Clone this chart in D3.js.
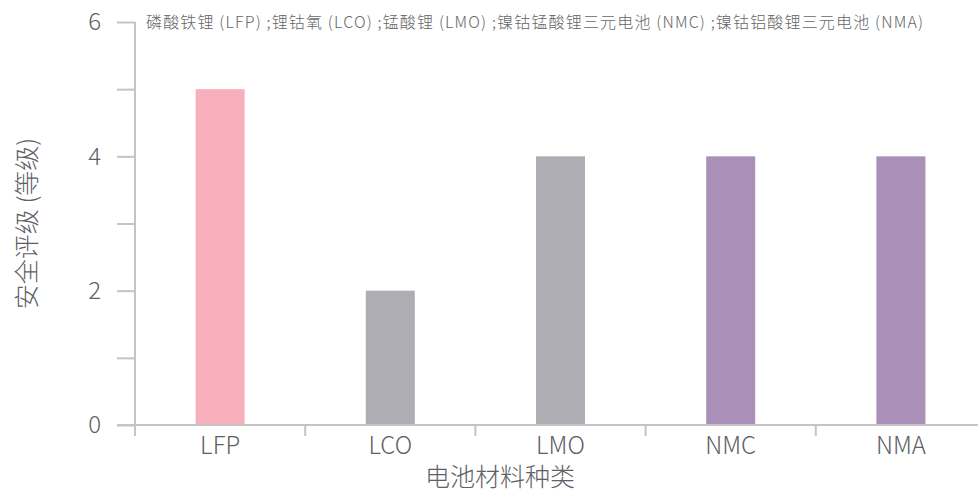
<!DOCTYPE html>
<html>
<head>
<meta charset="utf-8">
<script src="https://cdn.jsdelivr.net/npm/d3@7"></script>
<style>
body { margin: 0; background: #fff; }
text { font-family: "Noto Sans CJK SC", "Noto Sans", sans-serif; }
</style>
</head>
<body>
<div id="chart"></div>
<script>
var categories = ["LFP", "LCO", "LMO", "NMC", "NMA"];
var values = [5, 2, 4, 4, 4];
var colors = ["#f7afbb", "#aeadb3", "#aeadb3", "#aa90b8", "#aa90b8"];
var yTicks = [0, 1, 2, 3, 4, 5, 6];
var legendText = "磷酸铁锂 (LFP) ;锂钴氧 (LCO) ;锰酸锂 (LMO) ;镍钴锰酸锂三元电池 (NMC) ;镍钴铝酸锂三元电池 (NMA)";

function init() {
var w = 978;
var h = 494;
var axisColor = "#c4c4c4";
var textColor = "#5d6165";

var svg = d3.select("#chart")
            .append("svg")
            .attr("width", w)
            .attr("height", h);

var x = d3.scaleBand()
    .domain(categories)
    .range([135, 986]);

var y = d3.scaleLinear()
    .domain([0, 6])
    .range([425, 22]);

// bars
svg.selectAll("rect")
    .data(values)
    .enter()
    .append("rect")
    .attr("x", function(d, i) {
        return x(categories[i]) + x.bandwidth() * 0.356;
    })
    .attr("y", function(d) { return y(d); })
    .attr("width", x.bandwidth() * 0.288)
    .attr("height", function(d) { return y(0) - y(d); })
    .attr("fill", function(d, i) { return colors[i]; });

// y axis
var yAxis = svg.append("g")
    .attr("transform", "translate(135,0)")
    .call(d3.axisLeft(y)
        .tickValues(yTicks)
        .tickSizeInner(18)
        .tickSizeOuter(0)
        .tickPadding(16)
        .tickFormat(function(d) { return d % 2 === 0 ? d : ""; }));
yAxis.select(".domain").remove();
yAxis.selectAll("line").attr("stroke", axisColor).attr("stroke-width", 2);
yAxis.selectAll("text")
    .attr("fill", textColor)
    .style("font-size", "24px")
    .style("font-weight", 300);

// x axis labels
var xAxis = svg.append("g")
    .attr("transform", "translate(0," + y(0) + ")")
    .call(d3.axisBottom(x).tickSize(0).tickPadding(12));
xAxis.select(".domain").remove();
xAxis.selectAll("text")
    .attr("fill", textColor)
    .style("font-size", "24px")
    .style("font-weight", 300);

// x ticks on band edges
svg.selectAll(".xtick")
    .data(categories)
    .enter()
    .append("line")
    .attr("class", "xtick")
    .attr("x1", function(d) { return x(d); })
    .attr("x2", function(d) { return x(d); })
    .attr("y1", y(0))
    .attr("y2", y(0) + 11)
    .attr("stroke", axisColor)
    .attr("stroke-width", 2);

// axis lines
svg.append("line")
    .attr("x1", 135).attr("x2", 135)
    .attr("y1", y(6)).attr("y2", y(0) + 11)
    .attr("stroke", axisColor).attr("stroke-width", 2);
svg.append("line")
    .attr("x1", 117).attr("x2", w)
    .attr("y1", y(0)).attr("y2", y(0))
    .attr("stroke", axisColor).attr("stroke-width", 2);

// titles
svg.append("text")
    .attr("x", 500)
    .attr("y", 486)
    .attr("text-anchor", "middle")
    .attr("fill", textColor)
    .style("font-size", "25px")
    .style("font-weight", 300)
    .text("电池材料种类");

svg.append("text")
    .attr("transform", "translate(36," + (y(3)) + ") rotate(-90)")
    .attr("text-anchor", "middle")
    .attr("fill", textColor)
    .style("font-size", "25px")
    .style("font-weight", 300)
    .text("安全评级 (等级)");

svg.append("text")
    .attr("x", 146)
    .attr("y", 28)
    .attr("fill", "#666")
    .attr("textLength", 777)
    .attr("lengthAdjust", "spacing")
    .style("font-size", "16px")
    .style("font-weight", 300)
    .text(legendText);
}

window.onload = init;
</script>
</body>
</html>
